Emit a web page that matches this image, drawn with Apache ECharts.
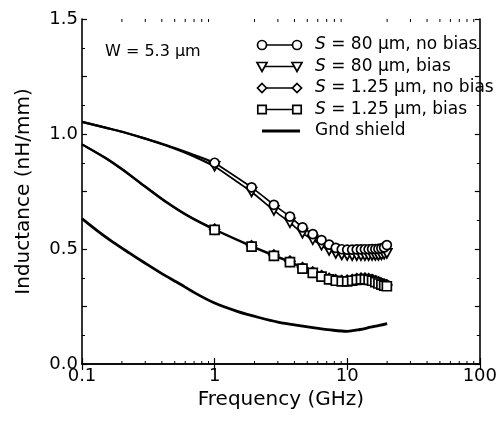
<!DOCTYPE html>
<html>
<head>
<meta charset="utf-8">
<script src="https://cdn.jsdelivr.net/npm/echarts@6/dist/echarts.min.js"></script>
<style>
  html, body { margin: 0; padding: 0; background: #fff; }
  #chart { width: 500px; height: 422px; }
</style>
</head>
<body>
<div id="chart"></div>
<script>
// Low-frequency part of the measured curves (plain line, no markers)
const lowFreq = [0.1, 0.15, 0.2, 0.3, 0.43, 0.64];
const lowS80NoBias = [1.053, 1.028, 1.010, 0.980, 0.952, 0.917];
const lowS80Bias = [1.053, 1.028, 1.010, 0.980, 0.950, 0.912];
const lowS125NoBias = [0.955, 0.897, 0.848, 0.772, 0.706, 0.643];
const lowS125Bias = [0.955, 0.895, 0.846, 0.770, 0.704, 0.641];

// Marked frequency points (GHz)
const measFreq = [1.0, 1.9, 2.8, 3.7, 4.6, 5.5, 6.4, 7.3, 8.2, 9.1, 10.0, 10.9,
                  11.8, 12.7, 13.6, 14.5, 15.4, 16.3, 17.2, 18.1, 19.0, 19.9];
const s80NoBias = [0.875, 0.768, 0.692, 0.641, 0.594, 0.565, 0.539, 0.519, 0.505, 0.499, 0.497, 0.497,
                   0.498, 0.498, 0.499, 0.499, 0.500, 0.500, 0.501, 0.503, 0.507, 0.517];
const s80Bias = [0.860, 0.748, 0.668, 0.614, 0.569, 0.540, 0.516, 0.494, 0.481, 0.474, 0.472, 0.471,
                 0.471, 0.471, 0.471, 0.471, 0.472, 0.472, 0.472, 0.474, 0.477, 0.481];
const s125NoBias = [0.586, 0.514, 0.474, 0.447, 0.419, 0.400, 0.384, 0.372, 0.366, 0.363, 0.364, 0.367,
                    0.371, 0.373, 0.373, 0.371, 0.367, 0.361, 0.356, 0.351, 0.347, 0.344];
const s125Bias = [0.583, 0.510, 0.470, 0.443, 0.415, 0.396, 0.380, 0.368, 0.362, 0.359, 0.359, 0.362,
                  0.366, 0.368, 0.368, 0.366, 0.362, 0.356, 0.350, 0.345, 0.341, 0.338];

// Ground-shielded line
const gndFreq = [0.1, 0.13, 0.17, 0.23, 0.3, 0.4, 0.54, 0.72, 1.0, 1.5, 2.2, 3.0, 4.0,
                 5.5, 7.5, 10, 12.5, 15, 17.5, 20];
const gndVal = [0.632, 0.580, 0.531, 0.481, 0.438, 0.393, 0.350, 0.307, 0.265, 0.228, 0.201, 0.182, 0.170,
                0.158, 0.148, 0.142, 0.150, 0.160, 0.168, 0.176];

// Axis ticks
const xTickLabels = [0.1, 1, 10, 100];
const yTickLabels = [0.0, 0.5, 1.0, 1.5];
const xMinorTicks = [0.2, 0.3, 0.4, 0.5, 0.6, 0.7, 0.8, 0.9,
                     2, 3, 4, 5, 6, 7, 8, 9,
                     20, 30, 40, 50, 60, 70, 80, 90];

const legendLabels = [
  '{i|S} = 80 μm, no bias',
  '{i|S} = 80 μm, bias',
  '{i|S} = 1.25 μm, no bias',
  '{i|S} = 1.25 μm, bias',
  'Gnd shield'
];
const annotation = 'W = 5.3 μm';

const FONT = 'DejaVu Sans';
const INK = '#000';

const TRI_DOWN = 'path://M0,0L10,0L5,9Z';

// Low-frequency trace joined to the first marked point
function lowTrace(lv, mv) {
  const out = lowFreq.map((f, i) => [f, lv[i]]);
  out.push([measFreq[0], mv[0]]);
  return {
    type: 'line', data: out, symbol: 'none', smooth: 0.3,
    lineStyle: { color: INK, width: 2.2 },
    emphasis: { disabled: true }, silent: true, animation: false
  };
}

function markedSeries(name, values, symbol, size) {
  return {
    name, type: 'line',
    data: measFreq.map((f, i) => [f, values[i]]),
    symbol, symbolSize: size, showAllSymbol: true,
    smooth: 0.2,
    lineStyle: { color: INK, width: 1.7 },
    itemStyle: { color: '#fff', borderColor: INK, borderWidth: 1.7 },
    emphasis: { disabled: true },
    animation: false
  };
}

const chart = echarts.init(document.getElementById('chart'), null, { renderer: 'canvas' });

// Legend drawn as graphic rows: line with a symbol at each end
const legendX0 = 262, legendX1 = 297, legendTextX = 315, legendY0 = 45, legendDy = 21.5;
const symStyle = { fill: '#fff', stroke: INK, lineWidth: 1.7 };
function legendSymbol(kind, cx, cy) {
  if (kind === 'circle') return { type: 'circle', shape: { cx, cy, r: 4.5 }, style: symStyle };
  if (kind === 'tri') return { type: 'polygon', shape: { points: [[cx - 5, cy - 4], [cx + 5, cy - 4], [cx, cy + 5]] }, style: symStyle };
  if (kind === 'diamond') return { type: 'polygon', shape: { points: [[cx, cy - 4.5], [cx + 4.5, cy], [cx, cy + 4.5], [cx - 4.5, cy]] }, style: symStyle };
  return { type: 'rect', shape: { x: cx - 4.2, y: cy - 4.2, width: 8.4, height: 8.4 }, style: symStyle };
}
const legendKinds = ['circle', 'tri', 'diamond', 'square', 'none'];
const graphics = [];
legendLabels.forEach((label, i) => {
  const y = legendY0 + i * legendDy;
  const kind = legendKinds[i];
  graphics.push({
    type: 'line', z: 100,
    shape: { x1: legendX0, y1: y, x2: kind === 'none' ? legendX1 + 3 : legendX1, y2: y },
    style: { stroke: INK, lineWidth: kind === 'none' ? 3 : 1.7 }
  });
  if (kind !== 'none') {
    graphics.push(Object.assign(legendSymbol(kind, legendX0, y), { z: 101 }));
    graphics.push(Object.assign(legendSymbol(kind, legendX1, y), { z: 101 }));
  }
  graphics.push({
    type: 'text', z: 101, x: legendTextX, y: y,
    style: {
      text: label, fill: INK, fontSize: 17, fontFamily: FONT, verticalAlign: 'middle',
      rich: { i: { fontStyle: 'italic', fontSize: 17, fontFamily: FONT, fill: INK } }
    }
  });
});
graphics.push({
  type: 'text', z: 101, x: 105, y: 52,
  style: { text: annotation, fill: INK, fontSize: 16, fontFamily: FONT, verticalAlign: 'middle' }
});

const axisLine = { show: true, lineStyle: { color: INK, width: 1.6 } };

const option = {
  backgroundColor: '#fff',
  animation: false,
  grid: { left: 82, right: 18, top: 19, bottom: 58 },
  graphic: graphics,
  xAxis: [
    {
      type: 'log', logBase: 10, min: 0.1, max: 100,
      position: 'bottom',
      axisLine,
      axisTick: { show: true, inside: true, length: 6, lineStyle: { color: INK, width: 1.2 } },
      axisLabel: {
        color: INK, fontSize: 18, fontFamily: FONT, margin: 3,
        formatter: v => {
          const t = xTickLabels.find(x => Math.abs(x - v) / x < 1e-6);
          return t === undefined ? '' : String(t);
        }
      },
      splitLine: { show: false },
      name: 'Frequency (GHz)', nameLocation: 'middle', nameGap: 18,
      nameTextStyle: { color: INK, fontSize: 20, fontFamily: FONT }
    },
    {
      type: 'log', logBase: 10, min: 0.1, max: 100,
      position: 'top',
      axisLine,
      axisTick: { show: true, inside: true, length: 6, lineStyle: { color: INK, width: 1.2 } },
      axisLabel: { show: false },
      splitLine: { show: false }
    }
  ],
  yAxis: [
    {
      type: 'value', min: 0, max: 1.5, interval: 0.25,
      position: 'left',
      axisLine,
      axisTick: { show: true, inside: true, length: 5, lineStyle: { color: INK, width: 1.2 } },
      minorTick: { show: true, splitNumber: 2, length: 3, lineStyle: { color: INK, width: 1 } },
      axisLabel: {
        color: INK, fontSize: 18, fontFamily: FONT, margin: 4,
        formatter: v => {
          const t = yTickLabels.find(y => Math.abs(y - v) < 1e-6);
          return t === undefined ? '' : t.toFixed(1);
        }
      },
      splitLine: { show: false },
      name: 'Inductance (nH/mm)', nameLocation: 'middle', nameGap: 48,
      nameTextStyle: { color: INK, fontSize: 20, fontFamily: FONT }
    },
    {
      type: 'value', min: 0, max: 1.5, interval: 0.25,
      position: 'right',
      axisLine,
      axisTick: { show: true, inside: true, length: 5, lineStyle: { color: INK, width: 1.2 } },
      minorTick: { show: true, splitNumber: 2, length: 3, lineStyle: { color: INK, width: 1 } },
      axisLabel: { show: false },
      splitLine: { show: false }
    }
  ],
  series: [
    {
      // Minor decade ticks (2..9) on bottom and top of the log axis
      type: 'custom', silent: true, clip: false, animation: false,
      data: xMinorTicks.map(f => [f]),
      encode: { x: 0 },
      renderItem: (params, api) => {
        const f = api.value(0);
        const b = api.coord([f, 0]);
        const t = api.coord([f, 1.5]);
        const style = { stroke: INK, lineWidth: 1 };
        return {
          type: 'group',
          children: [
            { type: 'line', shape: { x1: b[0], y1: b[1], x2: b[0], y2: b[1] - 3 }, style },
            { type: 'line', shape: { x1: t[0], y1: t[1], x2: t[0], y2: t[1] + 3 }, style }
          ]
        };
      }
    },
    {
      name: 'Gnd shield', type: 'line',
      data: gndFreq.map((f, i) => [f, gndVal[i]]),
      symbol: 'none', smooth: 0.3,
      lineStyle: { color: INK, width: 2.8 },
      animation: false
    },
    lowTrace(lowS80Bias, s80Bias),
    lowTrace(lowS80NoBias, s80NoBias),
    lowTrace(lowS125NoBias, s125NoBias),
    lowTrace(lowS125Bias, s125Bias),
    markedSeries('S = 80 μm, bias', s80Bias, TRI_DOWN, [10, 9]),
    markedSeries('S = 80 μm, no bias', s80NoBias, 'circle', 9),
    markedSeries('S = 1.25 μm, no bias', s125NoBias, 'diamond', 10),
    markedSeries('S = 1.25 μm, bias', s125Bias, 'rect', 9)
  ]
};

chart.setOption(option);
</script>
</body>
</html>
